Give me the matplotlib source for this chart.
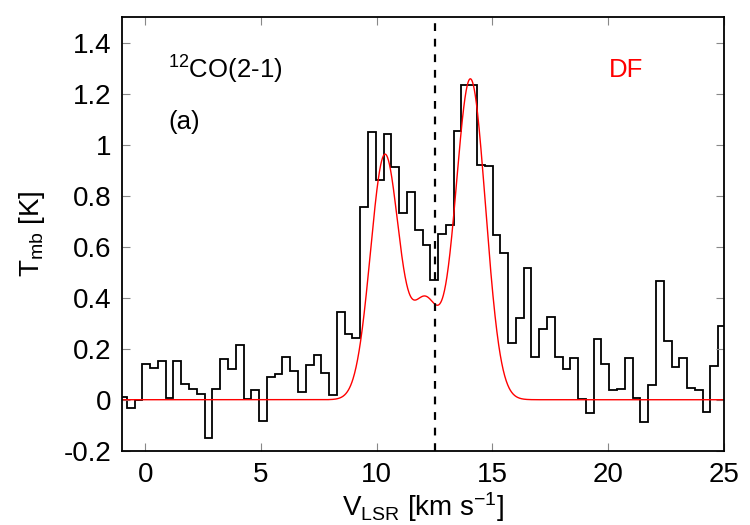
import numpy as np
import matplotlib
matplotlib.use("Agg")
import matplotlib.pyplot as plt
from matplotlib.ticker import FuncFormatter

plt.rcParams['font.family'] = ['Liberation Sans', 'DejaVu Sans']
plt.rcParams['axes.unicode_minus'] = False
plt.rcParams['mathtext.fontset'] = 'custom'
plt.rcParams['mathtext.rm'] = 'Liberation Sans'
plt.rcParams['mathtext.it'] = 'Liberation Sans'

# Spectrum: channel grid and brightness temperatures (K)
v_first_center = -0.973
channel_width = 0.3364
tmb = [0.01, -0.034, -0.003, 0.142, 0.124, 0.152, 0.006, 0.152, 0.06, 0.041,
       0.022, -0.149, 0.044, 0.158, 0.122, 0.216, 0.001, 0.04, -0.084, 0.088,
       0.10, 0.167, 0.113, 0.03, 0.135, 0.177, 0.105, 0.019, 0.344, 0.258,
       0.242, 0.755, 1.049, 0.863, 1.043, 0.913, 0.733, 0.816, 0.665, 0.606,
       0.469, 0.651, 0.685, 1.054, 1.235, 1.235, 0.921, 0.916, 0.645, 0.576,
       0.222, 0.321, 0.516, 0.166, 0.276, 0.325, 0.169, 0.122, 0.164, 0.002,
       -0.052, 0.24, 0.139, 0.039, 0.041, 0.162, 0.005, -0.086, 0.058, 0.465,
       0.232, 0.129, 0.162, 0.045, 0.04, -0.047, 0.134, 0.289]

# Model (DF) components: centers, amplitudes, dispersions
model_centers = [10.35, 14.05, 12.10]
model_amps = [0.958, 1.257, 0.375]
model_sigmas = [0.62, 0.65, 0.60]

v_sys = 12.5

xticks = [0, 5, 10, 15, 20, 25]
yticks = [-0.2, 0, 0.2, 0.4, 0.6, 0.8, 1.0, 1.2, 1.4]

fig = plt.figure(figsize=(7.5, 5.25), dpi=100)
ax = fig.add_axes([0.163, 0.1415, 0.802, 0.8255])

n = len(tmb)
edges = v_first_center - channel_width / 2 + channel_width * np.arange(n + 1)
ax.stairs(tmb, edges, baseline=None, color='black', linewidth=1.3)

v = np.linspace(-1, 25, 2000)
model = np.zeros_like(v)
for c, a, s in zip(model_centers, model_amps, model_sigmas):
    model += a * np.exp(-0.5 * ((v - c) / s) ** 2)
ax.plot(v, model, color='red', linewidth=1.0)

ax.axvline(v_sys, color='black', linestyle=(0, (3.5, 3.5)), linewidth=1.6)

ax.set_xlim(-1, 25)
ax.set_ylim(-0.2, 1.5)
ax.set_xticks(xticks)
ax.set_yticks(yticks)
ax.yaxis.set_major_formatter(FuncFormatter(lambda y, p: '%g' % round(y, 2)))
ax.tick_params(direction='in', top=True, right=True, length=6, width=0.8,
               labelsize=20, color='#888888', pad=8)
for sp in ax.spines.values():
    sp.set_linewidth(1.3)

ax.set_xlabel(r'V$_{\rm LSR}$ [km s$^{-1}$]', fontsize=20, labelpad=2)
ax.set_ylabel(r'T$_{\rm mb}$ [K]', fontsize=20, labelpad=12)

ax.text(0.076, 0.878, r'$^{12}$CO(2-1)', transform=ax.transAxes, fontsize=18.5,
        va='center', ha='left')
ax.text(0.076, 0.758, '(a)', transform=ax.transAxes, fontsize=18.5,
        va='center', ha='left')
ax.text(0.837, 0.878, 'DF', transform=ax.transAxes, fontsize=18.5,
        va='center', ha='center', color='red')

fig.savefig('out.png', dpi=100)
